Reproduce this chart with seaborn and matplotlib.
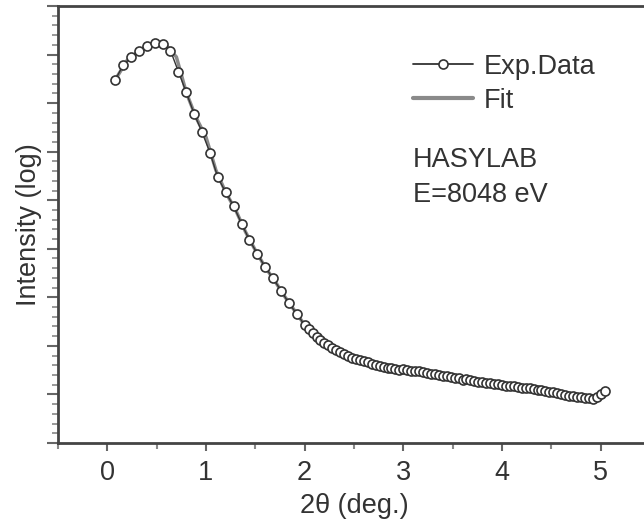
import seaborn as sns
import matplotlib.pyplot as plt
import pandas as pd
from matplotlib.ticker import MultipleLocator, NullFormatter
from matplotlib.lines import Line2D

# measured reflectivity (log intensity, in decades) vs 2theta
exp_x = [0.08, 0.16, 0.24, 0.32, 0.40, 0.48, 0.56, 0.64, 0.72, 0.80, 0.88, 0.96,
         1.04, 1.12, 1.20, 1.28, 1.36, 1.44, 1.52, 1.60, 1.68, 1.76, 1.84, 1.92,
         2.00, 2.04, 2.08, 2.12, 2.16, 2.20, 2.24, 2.28, 2.32, 2.36, 2.40, 2.44,
         2.48, 2.52, 2.56, 2.60, 2.64, 2.68, 2.72, 2.76, 2.80, 2.84, 2.88, 2.92,
         2.96, 3.00, 3.04, 3.08, 3.12, 3.16, 3.20, 3.24, 3.28, 3.32, 3.36, 3.40,
         3.44, 3.48, 3.52, 3.56, 3.60, 3.64, 3.68, 3.72, 3.76, 3.80, 3.84, 3.88,
         3.92, 3.96, 4.00, 4.04, 4.08, 4.12, 4.16, 4.20, 4.24, 4.28, 4.32, 4.36,
         4.40, 4.44, 4.48, 4.52, 4.56, 4.60, 4.64, 4.68, 4.72, 4.76, 4.80, 4.84,
         4.88, 4.92, 4.96, 5.00, 5.04]
exp_y = [7.48, 7.78, 7.95, 8.08, 8.18, 8.23, 8.22, 8.08, 7.65, 7.22, 6.78, 6.40,
         5.98, 5.47, 5.16, 4.88, 4.52, 4.18, 3.90, 3.62, 3.39, 3.14, 2.88, 2.66,
         2.43, 2.34, 2.26, 2.19, 2.12, 2.06, 2.01, 1.96, 1.91, 1.88, 1.84, 1.80,
         1.76, 1.74, 1.70, 1.69, 1.66, 1.62, 1.60, 1.59, 1.56, 1.55, 1.54, 1.52,
         1.51, 1.52, 1.50, 1.49, 1.48, 1.49, 1.46, 1.44, 1.42, 1.42, 1.40, 1.39,
         1.37, 1.35, 1.33, 1.33, 1.30, 1.31, 1.29, 1.27, 1.26, 1.26, 1.24, 1.23,
         1.22, 1.22, 1.20, 1.18, 1.17, 1.17, 1.15, 1.14, 1.13, 1.13, 1.11, 1.10,
         1.09, 1.08, 1.06, 1.05, 1.02, 1.00, 0.98, 0.97, 0.96, 0.95, 0.94, 0.92,
         0.92, 0.91, 0.95, 1.00, 1.08]

fit_x = [0.08, 0.2, 0.3, 0.4, 0.5, 0.6, 0.7, 0.8, 0.9, 1.0, 1.1, 1.2, 1.3, 1.4,
         1.5, 1.6, 1.7, 1.8, 1.9, 2.0, 2.2, 2.4, 2.6, 2.8, 3.0, 3.2, 3.4, 3.6,
         3.8, 4.0, 4.2, 4.4, 4.6, 4.8, 5.0]
fit_y = [7.48, 7.88, 8.04, 8.18, 8.23, 8.18, 7.95, 7.22, 6.70, 6.30, 5.62, 5.16,
         4.80, 4.35, 3.97, 3.62, 3.33, 3.01, 2.72, 2.43, 2.07, 1.84, 1.68, 1.56,
         1.51, 1.46, 1.38, 1.30, 1.25, 1.20, 1.14, 1.09, 1.00, 0.94, 0.97]

x_ticks = [0, 1, 2, 3, 4, 5]

sns.set_style("ticks")
plt.rcParams["font.family"] = ["Liberation Sans", "DejaVu Sans"]
plt.rcParams["font.size"] = 19.5
ink = "#333333"

df_exp = pd.DataFrame({"x": exp_x, "y": exp_y})
df_fit = pd.DataFrame({"x": fit_x, "y": fit_y})

fig = plt.figure(figsize=(6.44, 5.22), dpi=100)
ax = fig.add_axes([58 / 644, 79 / 522, 592 / 644, 437 / 522])

sns.lineplot(data=df_fit, x="x", y="y", ax=ax, color="#8a8a8a", linewidth=2.5,
             sort=False, estimator=None)
sns.lineplot(data=df_exp, x="x", y="y", ax=ax, color=ink, linewidth=1.0,
             marker="o", markersize=6.5, markerfacecolor="white",
             markeredgecolor=ink, markeredgewidth=1.2, sort=False, estimator=None)

ax.set_xlim(-0.5, 5.5)
ax.set_ylim(0, 9)
ax.set_xticks(x_ticks)
ax.xaxis.set_minor_locator(MultipleLocator(0.5))
ax.yaxis.set_major_locator(MultipleLocator(1))
ax.yaxis.set_minor_locator(MultipleLocator(0.2))
ax.yaxis.set_major_formatter(NullFormatter())

ax.tick_params(axis="x", which="major", direction="out", length=6, width=1.5,
               color="#666666", labelcolor=ink, pad=6)
ax.tick_params(axis="x", which="minor", direction="out", length=4, width=1.5,
               color="#888888")
ax.tick_params(axis="y", which="major", direction="out", length=8, width=1.5,
               color="#666666")
ax.tick_params(axis="y", which="minor", direction="out", length=4, width=1.2,
               color="#888888")

for side in ["left", "bottom", "top"]:
    ax.spines[side].set_color("#444444")
    ax.spines[side].set_linewidth(2)
ax.spines["right"].set_visible(False)

ax.set_xlabel("2θ (deg.)", color=ink, labelpad=5)
ax.set_ylabel("Intensity (log)", color=ink, labelpad=0)

handles = [
    Line2D([], [], color=ink, linewidth=1.3, marker="o", markersize=6.5,
           markerfacecolor="white", markeredgecolor=ink, markeredgewidth=1.2),
    Line2D([], [], color="#8a8a8a", linewidth=3),
]
ax.legend(handles, ["Exp.Data", "Fit"], loc="upper left",
          bbox_to_anchor=(0.60, 0.891), frameon=False, borderpad=0,
          borderaxespad=0, handlelength=2.2, handletextpad=0.4,
          labelspacing=0.3, labelcolor=ink)

ax.text(0.60, 0.648, "HASYLAB", transform=ax.transAxes, va="center",
        ha="left", color=ink)
ax.text(0.60, 0.568, "E=8048 eV", transform=ax.transAxes, va="center",
        ha="left", color=ink)

fig.savefig("out.png", dpi=100)
